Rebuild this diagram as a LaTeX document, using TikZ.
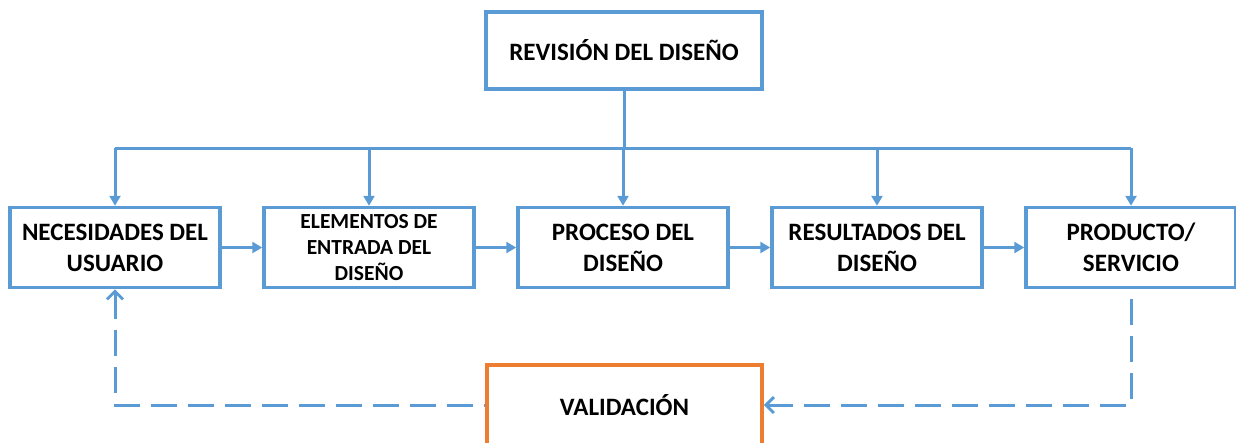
\documentclass[tikz,border=0pt]{standalone}
\usepackage{fontspec}
\setmainfont{Carlito}
\usetikzlibrary{arrows.meta}
\definecolor{azul}{HTML}{5B9BD5}
\definecolor{naranja}{HTML}{ED7D31}

\begin{document}
\begin{tikzpicture}[x=1pt, y=-1pt, font=\fontsize{25}{31}\selectfont\bfseries,
  caja/.style={draw=azul, line width=3.5pt, fill=white, align=center, minimum width=210pt, minimum height=80pt, inner sep=2pt},
  flecha/.style={-{Triangle[length=10pt, width=11pt]}, azul, line width=3pt},
  linea/.style={azul, line width=3pt},
  retro/.style={{Straight Barb[length=8pt, width=16pt]}-, azul, line width=3pt, dash pattern=on 26pt off 11pt}]
\useasboundingbox (0,0) rectangle (1236,442);
\node[caja, minimum width=276pt, minimum height=77pt] (rev) at (624,50.5) {REVISIÓN DEL DISEÑO};
\coordinate (bus) at (624,148);
\node[caja] (nec) at (115,247.5) {NECESIDADES DEL\\USUARIO};
\node[caja, font=\fontsize{21.5}{26}\selectfont\bfseries] (ele) at (369,247.5) {ELEMENTOS DE\\ENTRADA DEL\\DISEÑO};
\node[caja] (pro) at (623,247.5) {PROCESO DEL\\DISEÑO};
\node[caja] (res) at (877,247.5) {RESULTADOS DEL\\DISEÑO};
\node[caja] (prs) at (1131,247.5) {PRODUCTO/\\SERVICIO};
\node[caja, draw=naranja, minimum width=275pt] (val) at (624.5,405) {VALIDACIÓN};
\draw[linea] (rev) -- (bus);
\draw[linea] (nec.north |- bus) -- (prs.north |- bus);
\foreach \n in {nec,ele,pro,res,prs}
  \draw[flecha] (\n.north |- bus) -- (\n.north);
\draw[flecha] (nec) -- (ele);
\draw[flecha] (ele) -- (pro);
\draw[flecha] (pro) -- (res);
\draw[flecha] (res) -- (prs);
% lazo de validacion (punta al inicio)
\draw[retro] (val.east) -| (prs.south);
\draw[retro] (nec.south) |- (val.west);
\end{tikzpicture}
\end{document}
